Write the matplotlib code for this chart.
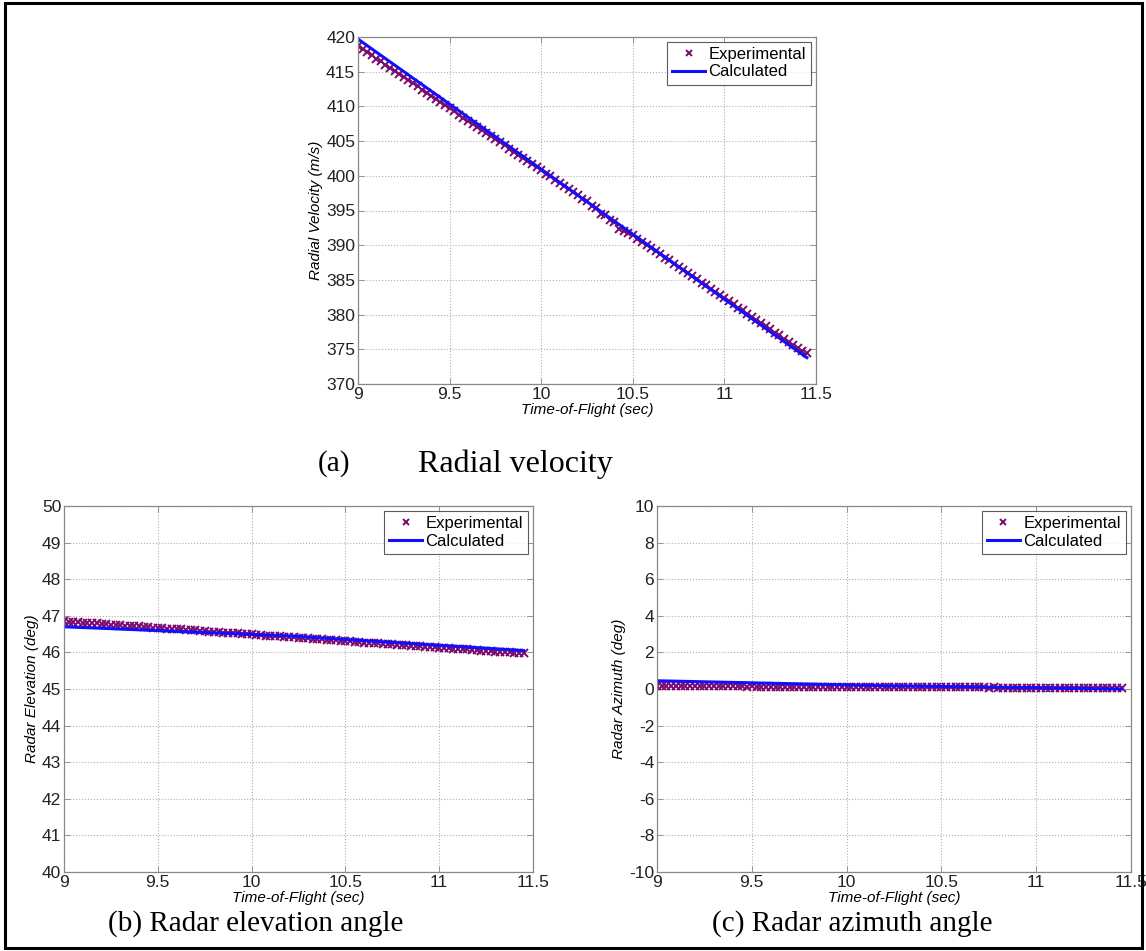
import matplotlib
matplotlib.use("Agg")
import matplotlib.pyplot as plt
from matplotlib.patches import Rectangle

# sample times of the experimental data (sec)
t_exp = [9.000, 9.025, 9.050, 9.075, 9.100, 9.125, 9.150, 9.175, 9.200, 9.225,
         9.250, 9.275, 9.300, 9.325, 9.350, 9.375, 9.400, 9.425, 9.450, 9.475,
         9.500, 9.525, 9.550, 9.575, 9.600, 9.625, 9.650, 9.675, 9.700, 9.725,
         9.750, 9.775, 9.800, 9.825, 9.850, 9.875, 9.900, 9.925, 9.950, 9.975,
         10.000, 10.025, 10.050, 10.075, 10.100, 10.125, 10.150, 10.175, 10.200, 10.225,
         10.250, 10.275, 10.300, 10.325, 10.350, 10.375, 10.400, 10.425, 10.450, 10.475,
         10.500, 10.525, 10.550, 10.575, 10.600, 10.625, 10.650, 10.675, 10.700, 10.725,
         10.750, 10.775, 10.800, 10.825, 10.850, 10.875, 10.900, 10.925, 10.950, 10.975,
         11.000, 11.025, 11.050, 11.075, 11.100, 11.125, 11.150, 11.175, 11.200, 11.225,
         11.250, 11.275, 11.300, 11.325, 11.350, 11.375, 11.400, 11.425, 11.450]

# (a) radial velocity, m/s
vel_exp = [418.7, 418.3, 417.8, 417.4, 416.9, 416.5, 416.0, 415.6, 415.1, 414.7,
           414.2, 413.8, 413.3, 412.9, 412.4, 412.0, 411.5, 411.1, 410.6, 410.2,
           409.7, 409.3, 408.8, 408.4, 407.9, 407.5, 407.0, 406.6, 406.2, 405.7,
           405.3, 404.8, 404.4, 403.9, 403.5, 403.0, 402.6, 402.1, 401.7, 401.2,
           400.8, 400.3, 399.9, 399.4, 399.0, 398.5, 398.1, 397.6, 397.2, 396.7,
           396.3, 395.6, 395.3, 394.5, 394.4, 393.6, 393.3, 392.4, 392.1, 391.8,
           391.4, 390.9, 390.5, 390.0, 389.6, 389.1, 388.7, 388.2, 387.8, 387.3,
           386.9, 386.4, 386.0, 385.5, 385.1, 384.6, 384.3, 383.7, 383.3, 382.8,
           382.4, 381.9, 381.5, 381.0, 380.6, 380.1, 379.7, 379.2, 378.8, 378.3,
           377.9, 377.4, 377.0, 376.5, 376.1, 375.6, 375.2, 374.8, 374.4]
t_calc = [9.0, 10.2, 11.45]
vel_calc = [419.7, 397.2, 373.8]

# (b) radar elevation, deg
elev_exp = [46.85, 46.84, 46.83, 46.82, 46.81, 46.81, 46.80, 46.79, 46.78, 46.77,
            46.76, 46.75, 46.74, 46.73, 46.72, 46.72, 46.71, 46.70, 46.69, 46.68,
            46.67, 46.66, 46.65, 46.64, 46.63, 46.63, 46.62, 46.61, 46.60, 46.59,
            46.58, 46.57, 46.56, 46.55, 46.54, 46.54, 46.53, 46.52, 46.51, 46.50,
            46.49, 46.48, 46.47, 46.46, 46.45, 46.45, 46.44, 46.43, 46.42, 46.41,
            46.40, 46.39, 46.38, 46.37, 46.36, 46.36, 46.35, 46.34, 46.33, 46.32,
            46.31, 46.30, 46.29, 46.28, 46.27, 46.27, 46.26, 46.25, 46.24, 46.23,
            46.22, 46.21, 46.20, 46.19, 46.18, 46.18, 46.17, 46.16, 46.15, 46.14,
            46.13, 46.12, 46.11, 46.10, 46.09, 46.09, 46.08, 46.07, 46.06, 46.05,
            46.04, 46.03, 46.02, 46.01, 46.00, 46.00, 45.99, 45.98, 45.97]
elev_calc = [46.70, 46.45, 46.05]

# (c) radar azimuth, deg
azim_exp = [0.16, 0.16, 0.16, 0.15, 0.16, 0.15, 0.15, 0.15, 0.15, 0.15,
            0.15, 0.14, 0.15, 0.14, 0.14, 0.14, 0.14, 0.14, 0.14, 0.13,
            0.14, 0.13, 0.13, 0.13, 0.13, 0.13, 0.13, 0.12, 0.13, 0.12,
            0.12, 0.12, 0.12, 0.12, 0.12, 0.11, 0.12, 0.11, 0.11, 0.11,
            0.11, 0.11, 0.11, 0.11, 0.11, 0.10, 0.11, 0.10, 0.10, 0.10,
            0.10, 0.10, 0.10, 0.10, 0.10, 0.10, 0.10, 0.09, 0.10, 0.09,
            0.09, 0.09, 0.09, 0.09, 0.09, 0.09, 0.09, 0.09, 0.09, 0.09,
            0.08, 0.09, 0.08, 0.08, 0.08, 0.08, 0.08, 0.08, 0.08, 0.08,
            0.08, 0.08, 0.08, 0.08, 0.08, 0.07, 0.08, 0.07, 0.08, 0.07,
            0.07, 0.07, 0.07, 0.07, 0.07, 0.07, 0.07, 0.07, 0.07]
azim_calc = [0.45, 0.18, 0.0]

xticks = [9, 9.5, 10, 10.5, 11, 11.5]
xticklabels = ["9", "9.5", "10", "10.5", "11", "11.5"]

W, H = 1146, 951
EXP_COLOR = "#7a0a6e"
CALC_COLOR = "#1010ff"
plt.rcParams["font.family"] = ["Liberation Sans", "DejaVu Sans"]
plt.rcParams["axes.unicode_minus"] = False

fig = plt.figure(figsize=(W / 100, H / 100), dpi=100)


def px_axes(left, top, right, bottom):
    return fig.add_axes([left / W, 1 - bottom / H, (right - left) / W, (bottom - top) / H])


def panel(ax, y_exp, y_calc, ylim, yticks, ylabel):
    ax.plot(t_exp, y_exp, "x", color=EXP_COLOR, ms=6, mew=1.4, label="Experimental")
    ax.plot(t_calc, y_calc, "-", color=CALC_COLOR, lw=2.2, label="Calculated")
    ax.set_xlim(9, 11.5)
    ax.set_ylim(*ylim)
    ax.set_xticks(xticks, xticklabels)
    ax.set_yticks(yticks)
    ax.grid(True, ls=":", color="#b0b0b0", lw=0.8)
    ax.tick_params(direction="in", length=4, width=0.6, top=True, right=True,
                   labelsize=12.5, colors="#888888", labelcolor="#222222", pad=2)
    for s in ax.spines.values():
        s.set_color("#888888")
        s.set_linewidth(0.9)
    ax.set_xlabel("Time-of-Flight (sec)", style="italic", fontsize=11, labelpad=1)
    ax.set_ylabel(ylabel, style="italic", fontsize=11, labelpad=2)
    leg = ax.legend(loc="upper right", fontsize=12, frameon=True, fancybox=False,
                    handlelength=2.0, handletextpad=0.2, borderpad=0.3,
                    labelspacing=0.15, borderaxespad=0.3, markerscale=0.7)
    leg.get_frame().set_edgecolor("#333333")
    leg.get_frame().set_linewidth(0.8)


ax_a = px_axes(358, 37, 816, 384)
panel(ax_a, vel_exp, vel_calc, (370, 420), list(range(370, 421, 5)), "Radial Velocity (m/s)")

ax_b = px_axes(64, 506, 533, 872)
panel(ax_b, elev_exp, elev_calc, (40, 50), list(range(40, 51)), "Radar Elevation (deg)")

ax_c = px_axes(657, 506, 1131, 872)
panel(ax_c, azim_exp, azim_calc, (-10, 10), list(range(-10, 11, 2)), "Radar Azimuth (deg)")

serif = ["Liberation Serif", "DejaVu Serif"]
fig.text(318 / W, 1 - 464 / H, "(a)", family=serif, fontsize=21, va="center", ha="left")
fig.text(418 / W, 1 - 464 / H, "Radial velocity", family=serif, fontsize=23, va="center", ha="left")
fig.text(256 / W, 1 - 924 / H, "(b) Radar elevation angle", family=serif, fontsize=21,
         va="center", ha="center")
fig.text(852 / W, 1 - 924 / H, "(c) Radar azimuth angle", family=serif, fontsize=21,
         va="center", ha="center")

# outer frame
fig.patches.append(Rectangle((5 / W, 3 / H), 1137 / W, 945 / H, transform=fig.transFigure,
                             fill=False, ec="black", lw=2.2))

fig.savefig("out.png", dpi=100)
